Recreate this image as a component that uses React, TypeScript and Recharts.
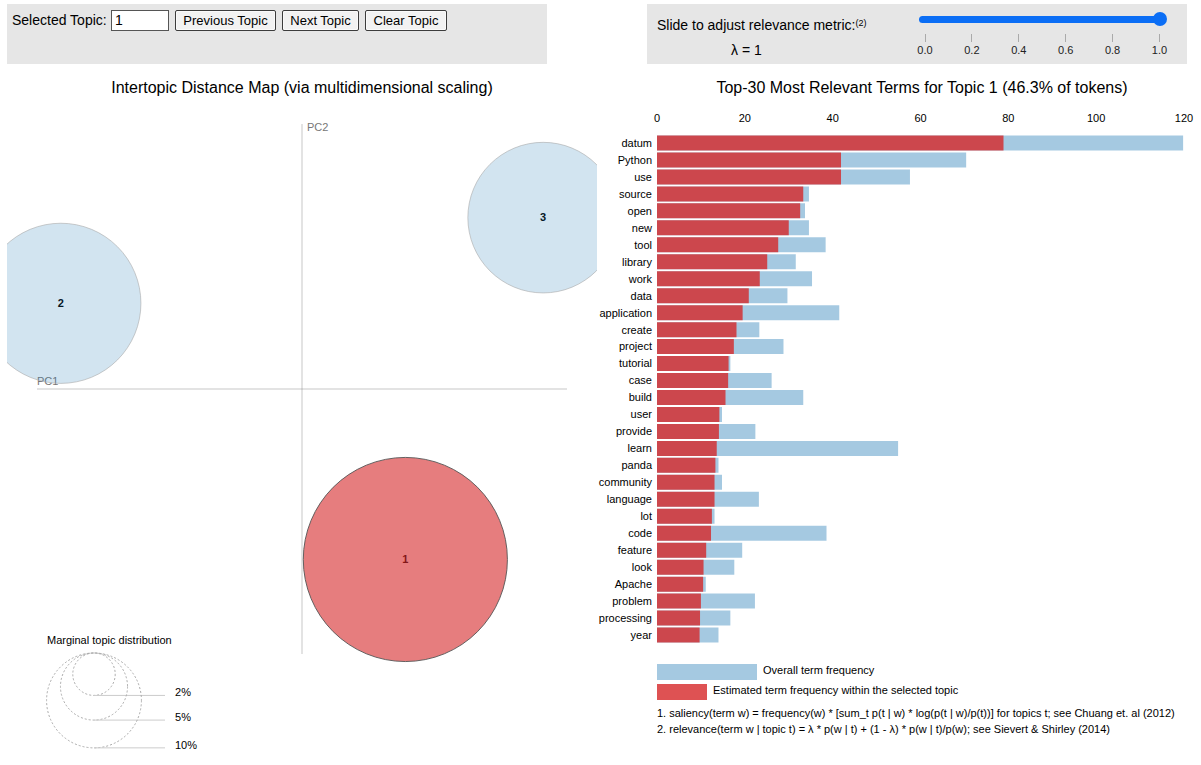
import React from 'react';
import { ScatterChart, Scatter, XAxis, YAxis, ZAxis, ReferenceLine, BarChart, Bar } from 'recharts';

// ---------- data ----------
const topicIds = [1, 2, 3];
const topicPC1 = [0.117, -0.273, 0.273];
const topicPC2 = [-0.193, 0.097, 0.194];
const topicShare = [46.3, 28.5, 25.2]; // % of tokens
const selectedTopic = 1;

const terms = [
  'datum', 'Python', 'use', 'source', 'open', 'new', 'tool', 'library', 'work', 'data',
  'application', 'create', 'project', 'tutorial', 'case', 'build', 'user', 'provide', 'learn', 'panda',
  'community', 'language', 'lot', 'code', 'feature', 'look', 'Apache', 'problem', 'processing', 'year',
];
const overallFreq = [
  119.8, 70.4, 57.6, 34.6, 33.7, 34.6, 38.4, 31.6, 35.3, 29.7,
  41.5, 23.3, 28.8, 16.7, 26.1, 33.3, 14.8, 22.4, 54.9, 14.0,
  14.8, 23.2, 13.1, 38.6, 19.4, 17.6, 11.1, 22.3, 16.7, 14.0,
];
const topicFreq = [
  78.9, 41.9, 41.9, 33.3, 32.6, 30.0, 27.6, 25.1, 23.4, 20.9,
  19.5, 18.1, 17.5, 16.3, 16.2, 15.6, 14.2, 14.1, 13.6, 13.3,
  13.1, 13.1, 12.5, 12.3, 11.2, 10.6, 10.5, 10.0, 9.8, 9.7,
];
const freqTicks = [0, 20, 40, 60, 80, 100, 120];
const lambdaTicks = ['0.0', '0.2', '0.4', '0.6', '0.8', '1.0'];
const legendShares = [2, 5, 10];

// ---------- styles ----------
const FONT = '"Liberation Sans", Arial, Helvetica, sans-serif';
const BLUE = '#1f77b4';
const RED = '#d62728';
const R100 = 150; // radius in px of a topic holding 100% of tokens
const radiusOf = (share: number) => R100 * Math.sqrt(share / 100);

const scatterData = topicIds.map((t, i) => ({ topic: t, x: topicPC1[i], y: topicPC2[i], z: topicShare[i] }));
const barData = terms.map((t, i) => ({ term: t, overall: overallFreq[i], topic: topicFreq[i] }));

const TopicCircle = (props: any) => {
  const { cx, cy, payload } = props;
  const r = props.size != null ? Math.sqrt(props.size / Math.PI) : props.width / 2;
  const sel = payload.topic === selectedTopic;
  return (
    <g>
      <text x={cx} y={cy} dy="0.35em" textAnchor="middle" fontSize={11} fontWeight="bold" fill="#000" fontFamily={FONT}>
        {payload.topic}
      </text>
      <circle
        cx={cx}
        cy={cy}
        r={r}
        fill={sel ? RED : BLUE}
        fillOpacity={sel ? 0.6 : 0.2}
        stroke={sel ? '#555' : '#aaa'}
        strokeOpacity={sel ? 0.9 : 0.6}
        strokeWidth={1}
      />
    </g>
  );
};

const PcLabel = (text: string, dx: number, dy: number) => (p: any) => {
  const vb = p.viewBox || {};
  return (
    <text x={(vb.x ?? 0) + dx} y={(vb.y ?? 0) + dy} fontSize={11} fill="#777" fontFamily={FONT}>
      {text}
    </text>
  );
};

const Button = ({ left, width, label }: { left: number; width: number; label: string }) => (
  <div
    style={{
      position: 'absolute', left, top: 10, width, height: 21, boxSizing: 'border-box',
      border: '1px solid #3c3c3c', borderRadius: 2, background: '#f2f2f2',
      boxShadow: 'inset 0 0 0 1px #fafafa',
      fontSize: 13, lineHeight: '20px', textAlign: 'center', color: '#000',
    }}
  >
    {label}
  </div>
);

const MarginalLegend = () => {
  const cx = 94;
  const top = 33;
  return (
    <svg width={250} height={145} style={{ position: 'absolute', left: 0, top: 620 }}>
      <text x={47} y={24} fontSize={11} fill="#000" fontFamily={FONT}>Marginal topic distribution</text>
      {legendShares.map((s) => {
        const r = radiusOf(s);
        const bottom = top + 2 * r;
        return (
          <g key={s}>
            <circle cx={cx} cy={top + r} r={r} fill="none" stroke="#aaa" strokeDasharray="2 2" />
            <line x1={cx} x2={165} y1={bottom} y2={bottom} stroke="#ccc" />
            <text x={175} y={bottom + 1} fontSize={11} fill="#000" fontFamily={FONT}>{s}%</text>
          </g>
        );
      })}
    </svg>
  );
};

export default function App() {
  const sliderLeft = 925;
  const sliderRight = 1159.5;
  const step = (sliderRight - sliderLeft) / (lambdaTicks.length - 1);
  return (
    <div style={{ position: 'absolute', left: 0, top: 0, width: 1201, height: 765, fontFamily: FONT, color: '#000', overflow: 'hidden' }}>
      <style>{`body{margin:0;overflow:hidden;}`}</style>

      {/* left control panel */}
      <div style={{ position: 'absolute', left: 7, top: 4, width: 540, height: 60, background: '#e6e6e6' }} />
      <div style={{ position: 'absolute', left: 12, top: 12, fontSize: 14, lineHeight: '17px' }}>Selected Topic:</div>
      <div
        style={{
          position: 'absolute', left: 111, top: 10, width: 58, height: 21, boxSizing: 'border-box',
          border: '1px solid #555', background: '#fff', fontSize: 14, lineHeight: '19px', paddingLeft: 3,
        }}
      >
        1
      </div>
      <Button left={175} width={101} label="Previous Topic" />
      <Button left={282} width={77} label="Next Topic" />
      <Button left={365} width={82} label="Clear Topic" />

      {/* right control panel */}
      <div style={{ position: 'absolute', left: 647, top: 4, width: 540, height: 60, background: '#e6e6e6' }} />
      <div style={{ position: 'absolute', left: 657, top: 17, fontSize: 14, lineHeight: '16px', whiteSpace: 'nowrap' }}>
        Slide to adjust relevance metric:<span style={{ fontSize: 9, position: 'relative', top: -4 }}>(2)</span>
      </div>
      <div style={{ position: 'absolute', left: 731, top: 42, fontSize: 14, lineHeight: '16px' }}>λ = 1</div>
      <div style={{ position: 'absolute', left: 919, top: 16, width: 241, height: 6.5, borderRadius: 3.5, background: '#0b6ef5' }} />
      <div style={{ position: 'absolute', left: sliderRight - 7, top: 12, width: 14, height: 14, borderRadius: 7, background: '#0b6ef5' }} />
      {lambdaTicks.map((t, i) => (
        <React.Fragment key={t}>
          <div style={{ position: 'absolute', left: sliderLeft + i * step - 0.5, top: 34, width: 1, height: 8, background: '#aaa' }} />
          <div style={{ position: 'absolute', left: sliderLeft + i * step - 20, top: 44, width: 40, textAlign: 'center', fontSize: 11, lineHeight: '13px', color: '#222' }}>
            {t}
          </div>
        </React.Fragment>
      ))}

      {/* titles */}
      <div style={{ position: 'absolute', left: 2, top: 79, width: 600, textAlign: 'center', fontSize: 16, lineHeight: '18px', whiteSpace: 'nowrap' }}>
        Intertopic Distance Map (via multidimensional scaling)
      </div>
      <div style={{ position: 'absolute', left: 672, top: 79, width: 500, textAlign: 'center', fontSize: 16, lineHeight: '18px', whiteSpace: 'nowrap' }}>
        Top-30 Most Relevant Terms for Topic 1 (46.3% of tokens)
      </div>

      {/* intertopic distance map */}
      <div style={{ position: 'absolute', left: 7, top: 70 }}>
        <ScatterChart width={590} height={680} margin={{ top: 54, right: 30, bottom: 96, left: 30 }}>
          <XAxis type="number" dataKey="x" domain={[-0.3, 0.3]} hide />
          <YAxis type="number" dataKey="y" domain={[-0.3, 0.3]} hide />
          <ZAxis type="number" dataKey="z" domain={[0, 100]} range={[0, Math.PI * R100 * R100]} />
          <ReferenceLine x={0} stroke="#808080" strokeOpacity={0.3} strokeWidth={1.5} label={PcLabel('PC2', 5, 7)} />
          <ReferenceLine y={0} stroke="#808080" strokeOpacity={0.3} strokeWidth={1.5} label={PcLabel('PC1', 0, -4)} />
          <Scatter data={scatterData} shape={TopicCircle} isAnimationActive={false} />
        </ScatterChart>
      </div>
      <MarginalLegend />

      {/* bar chart */}
      <div style={{ position: 'absolute', left: 597, top: 95 }}>
        <BarChart
          width={604}
          height={560}
          data={barData}
          layout="vertical"
          margin={{ top: 9.5, right: 17, bottom: 11.5, left: 0 }}
          barSize={15}
          barGap={-15}
        >
          <XAxis
            type="number"
            orientation="top"
            domain={[0, 120]}
            ticks={freqTicks}
            interval={0}
            height={30}
            axisLine={false}
            tickLine={false}
            tickSize={0}
            tickMargin={13}
            tick={{ fontSize: 11, fill: '#000', fontFamily: FONT }}
          />
          <YAxis
            type="category"
            dataKey="term"
            width={60}
            interval={0}
            axisLine={false}
            tickLine={false}
            tickSize={0}
            tickMargin={5}
            tick={{ fontSize: 11, fill: '#000', fontFamily: FONT }}
          />
          <Bar dataKey="overall" fill={BLUE} fillOpacity={0.4} isAnimationActive={false} />
          <Bar dataKey="topic" fill={RED} fillOpacity={0.8} isAnimationActive={false} />
        </BarChart>
      </div>

      {/* bar legend and notes */}
      <svg width={560} height={90} style={{ position: 'absolute', left: 641, top: 655 }}>
        <rect x={16} y={9} width={100} height={16} fill={BLUE} fillOpacity={0.4} />
        <text x={122} y={19} fontSize={11} fill="#000" fontFamily={FONT}>Overall term frequency</text>
        <rect x={16} y={29} width={50} height={16} fill={RED} fillOpacity={0.8} />
        <text x={72} y={39} fontSize={11} fill="#000" fontFamily={FONT}>Estimated term frequency within the selected topic</text>
        <text x={16} y={62} fontSize={11} fill="#000" fontFamily={FONT}>
          1. saliency(term w) = frequency(w) * [sum_t p(t | w) * log(p(t | w)/p(t))] for topics t; see Chuang et. al (2012)
        </text>
        <text x={16} y={78} fontSize={11} fill="#000" fontFamily={FONT}>
          2. relevance(term w | topic t) = λ * p(w | t) + (1 - λ) * p(w | t)/p(w); see Sievert &amp; Shirley (2014)
        </text>
      </svg>
    </div>
  );
}
